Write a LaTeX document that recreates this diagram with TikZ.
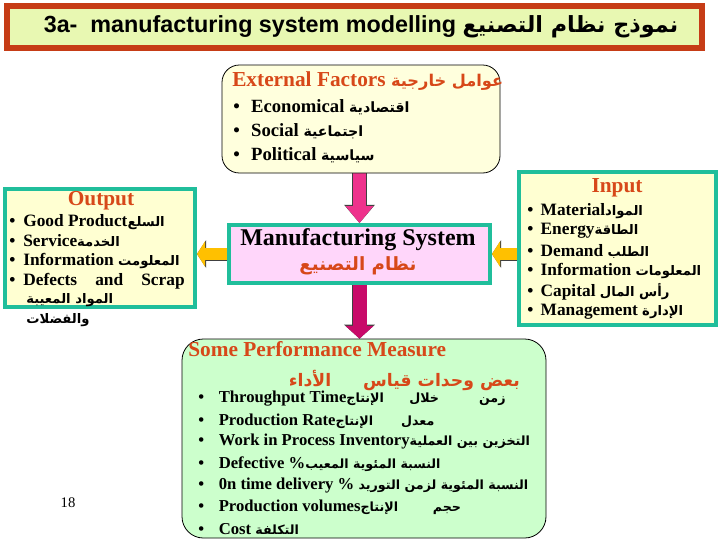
\documentclass[tikz,border=0pt]{standalone}
\usepackage{fontspec}
\setmainfont{Liberation Serif}
\newfontfamily\headfont{Liberation Sans}
\newfontfamily\arabicfont[Script=Arabic,Scale=0.76]{DejaVu Sans}
\TeXXeTstate=1
\usetikzlibrary{arrows.meta,backgrounds}

\definecolor{titlered}{RGB}{198,60,22}
\definecolor{titlefill}{RGB}{232,248,178}
\definecolor{tealline}{RGB}{32,190,155}
\definecolor{headred}{RGB}{215,72,25}
\definecolor{extfill}{RGB}{255,255,221}
\definecolor{boxfill}{RGB}{255,255,210}
\definecolor{mfgfill}{RGB}{255,214,250}
\definecolor{perffill}{RGB}{204,255,204}
\definecolor{arrowpink}{RGB}{238,50,140}
\definecolor{arrowmag}{RGB}{200,10,105}
\definecolor{arrowyel}{RGB}{255,192,0}

\newcommand{\arb}[1]{{\arabicfont\beginR #1\endR}}

\tikzset{
  txt/.style={inner sep=0pt, anchor=west},
  redhead/.style={inner sep=0pt, text=headred, font=\bfseries\fontsize{16}{18}\selectfont},
  item/.style={txt, font=\bfseries\fontsize{13}{15}\selectfont},
  perfitem/.style={txt, font=\bfseries\fontsize{12.5}{14}\selectfont},
  tealbox/.style={draw=tealline, line width=3pt, fill=boxfill, inner sep=0pt},
  roundbox/.style={draw=black, line width=0.6pt, rounded corners=13pt, inner sep=0pt},
  pinkdown/.style={draw=arrowpink, line width=9.75pt,
    -{Triangle[length=12.75pt,width=21pt,line width=0pt]},
    preaction={draw=black!75, line width=11pt,
      -{Triangle[length=13.6pt,width=23pt,line width=0pt]}}},
  magdown/.style={draw=arrowmag, line width=10.5pt,
    -{Triangle[length=9.5pt,width=21pt,line width=0pt]},
    preaction={draw=black!75, line width=11.75pt,
      -{Triangle[length=10.4pt,width=23pt,line width=0pt]}}},
  yelarrow/.style={draw=arrowyel, line width=8.5pt,
    -{Triangle[length=6pt,width=19pt,line width=0pt]},
    preaction={draw=black!75, line width=9.75pt,
      -{Triangle[length=6.9pt,width=21pt,line width=0pt]}}}
}

\begin{document}
\begin{tikzpicture}[x=0.75pt,y=-0.75pt]
\useasboundingbox (0,0) rectangle (720,540);

% title bar
\node[draw=titlered, line width=4.5pt, fill=titlefill, minimum width=521.25pt,
  minimum height=31.5pt, inner sep=0pt] (title) at (354.5,27) {};
\node[inner sep=0pt, font=\headfont\bfseries\fontsize{17.5}{20}\selectfont] (titletxt) at (361,27)
  {3a-\ \ manufacturing system modelling \arb{\bfseries\fontsize{22}{24}\selectfont نموذج نظام التصنيع}};

% external factors
\node[roundbox, fill=extfill, minimum width=208.5pt, minimum height=81pt] (ext) at (361,119) {};
\node[redhead, anchor=west] (exthead) at (232,81) {External Factors \arb{\bfseries عوامل خارجية}};
\node[txt, font=\bfseries\fontsize{14}{16}\selectfont] (ext1) at (233,107) {\textbullet\hspace{8.5pt}Economical \arb{اقتصادية}};
\node[txt, font=\bfseries\fontsize{14}{16}\selectfont] (ext2) at (233,131) {\textbullet\hspace{8.5pt}Social \arb{اجتماعية}};
\node[txt, font=\bfseries\fontsize{14}{16}\selectfont] (ext3) at (233,155) {\textbullet\hspace{8.5pt}Political \arb{سياسية}};

% manufacturing system
\node[tealbox, fill=mfgfill, minimum width=195.75pt, minimum height=43.5pt] (mfg) at (359.5,254) {};
\node[inner sep=0pt, font=\bfseries\fontsize{18}{20}\selectfont] (mfgtxt) at (358,240) {Manufacturing System};
\node[inner sep=0pt, text=headred, font=\bfseries\fontsize{18}{20}\selectfont] (mfgar) at (358,266) {\arb{نظام التصنيع}};

% output
\node[tealbox, minimum width=142.5pt, minimum height=88.5pt] (out) at (100,248) {};
\node[redhead] (outhead) at (101,201) {Output};
\node[item] (out1) at (9,222) {\textbullet\hspace{6pt}Good Product\arb{السلع}};
\node[item] (out2) at (9,241) {\textbullet\hspace{6pt}Service\arb{الخدمة}};
\node[item] (out3) at (9,261) {\textbullet\hspace{6pt}Information \arb{المعلومت}};
\node[item] (out4) at (9,281) {\textbullet\hspace{6pt}\makebox[121pt][s]{Defects\hfill and\hfill Scrap}};
\node[item] (out5) at (26,300) {\arb{المواد المعيبة}};
\node[item] (out6) at (26,320) {\arb{والفضلات}};

% input
\node[tealbox, minimum width=147.75pt, minimum height=114.75pt] (in) at (617.5,248.5) {};
\node[redhead] (inhead) at (617,188) {Input};
\node[item] (in1) at (527,211) {\textbullet\hspace{5.5pt}Material\arb{المواد}};
\node[item] (in2) at (527,231) {\textbullet\hspace{5.5pt}Energy\arb{الطاقة}};
\node[item] (in3) at (527,251) {\textbullet\hspace{5.5pt}Demand \arb{الطلب}};
\node[item] (in4) at (527,271) {\textbullet\hspace{5.5pt}Information \arb{المعلومات}};
\node[item] (in5) at (527,292) {\textbullet\hspace{5.5pt}Capital \arb{رأس المال}};
\node[item] (in6) at (527,312) {\textbullet\hspace{5.5pt}Management \arb{الإدارة}};

% performance measures
\node[roundbox, fill=perffill, rounded corners=16pt, minimum width=273pt, minimum height=149.25pt] (perf) at (364,438.5) {};
\node[redhead, anchor=west] (perfhead) at (188,349) {Some Performance Measure};
\node[redhead, anchor=east] (perfar) at (520,380) {\arb{\bfseries\fontsize{17}{19}\selectfont بعض وحدات قياس\hspace{24pt}الأداء}};
\node[perfitem] (p1) at (198,399) {\textbullet\hspace{11pt}Throughput Time\arb{زمن\hspace{30pt}خلال\hspace{19pt}الإنتاج}};
\node[perfitem] (p2) at (198,421) {\textbullet\hspace{11pt}Production Rate\arb{معدل\hspace{21pt}الإنتاج}};
\node[perfitem] (p3) at (198,442) {\textbullet\hspace{11pt}Work in Process Inventory\arb{التخزين بين العملية}};
\node[perfitem] (p4) at (198,464) {\textbullet\hspace{11pt}Defective \%\arb{النسبة المئوية المعيب}};
\node[perfitem] (p5) at (198,486) {\textbullet\hspace{11pt}0n time delivery \% \arb{النسبة المئوية لزمن التوريد}};
\node[perfitem] (p6) at (198,507) {\textbullet\hspace{11pt}Production volumes\arb{حجم\hspace{26pt}الإنتاج}};
\node[perfitem] (p7) at (198,529) {\textbullet\hspace{11pt}Cost \arb{التكلفة}};

\node[inner sep=0pt, font=\fontsize{11}{13}\selectfont] (pagenum) at (68,503) {18};

% arrows
\begin{scope}[on background layer]
\draw[pinkdown] (mfg.north |- ext.south) -- (mfg.north);
\draw[magdown] (mfg.south) -- (mfg.south |- perf.north);
\draw[yelarrow] (mfg.west) -- (mfg.west -| out.east);
\draw[yelarrow] (mfg.east -| in.west) -- (mfg.east);
\end{scope}
\end{tikzpicture}
\end{document}
